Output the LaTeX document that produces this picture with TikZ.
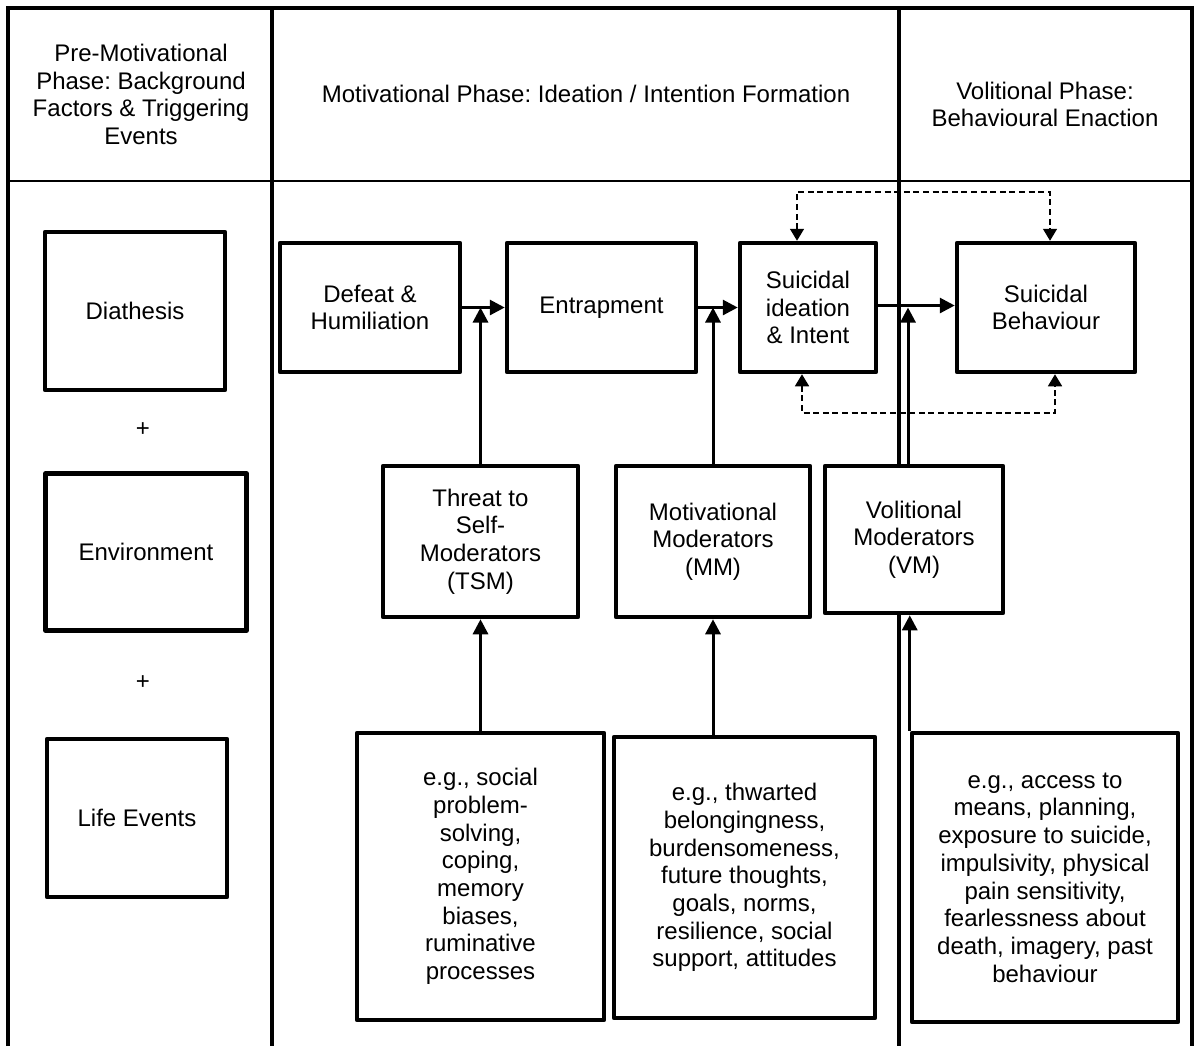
\documentclass[tikz,border=0pt]{standalone}
\usepackage{fontspec}
\setmainfont{Liberation Sans}
\usetikzlibrary{arrows.meta}
\frenchspacing

\begin{document}
\begin{tikzpicture}[x=0.5pt,y=-0.5pt,
  every node/.style={font=\fontsize{12}{13.85}\selectfont,align=center},
  box/.style={draw,fill=white,line width=2.25pt,line join=round,inner sep=2pt},
  frame/.style={line width=2pt},
  arr/.style={line width=1.5pt,-{Triangle[length=7.5pt,width=7.5pt]}},
  dasharr/.style={line width=0.8pt,dash pattern=on 3pt off 1.8pt,
    {Triangle[length=6pt,width=7pt]}-{Triangle[length=6pt,width=7pt]}}]
  \useasboundingbox (0,0) rectangle (1199,1046);

  % Cadre et colonnes
  \draw[frame] (8,1046) -- (8,8) -- (1192,8) -- (1192,1046);
  \draw[frame] (272,8) -- (272,1046);
  \draw[frame] (899,8) -- (899,1046);
  \draw[line width=1pt] (8,181) -- (1192,181);

  % En-tetes
  \node (prehead) at (141,94.5) {Pre-Motivational\\Phase: Background\\Factors \& Triggering\\Events};
  \node (mothead) at (586,94) {Motivational Phase: Ideation / Intention Formation};
  \node (volhead) at (1045,104.5) {Volitional Phase:\\Behavioural Enaction};

  % Phase pre-motivationnelle
  \node[box,minimum width=90pt,minimum height=79pt] (diath) at (135,311) {Diathesis};
  \node (plusa) at (143,430) {+};
  \node[box,minimum width=100.5pt,minimum height=78.5pt] (envir) at (146,552) {Environment};
  \node (plusb) at (143,683) {+};
  \node[box,minimum width=90pt,minimum height=79pt] (life) at (137,818) {Life Events};

  % Chaine principale
  \node[box,minimum width=90pt,minimum height=64.5pt] (defeat) at (370,307.5) {Defeat \&\\Humiliation};
  \node[box,minimum width=94.5pt,minimum height=64.5pt] (entrap) at (601.5,307.5) {Entrapment};
  \node[box,minimum width=68pt,minimum height=64.5pt] (ideation) at (808,307.5) {Suicidal\\ideation\\\& Intent};
  \node[box,minimum width=89pt,minimum height=64.5pt] (behav) at (1046,307.5) {Suicidal\\Behaviour};

  % Moderateurs
  \node[box,minimum width=97.5pt,minimum height=75.5pt] (tsm) at (480.5,541.5) {Threat to\\Self-\\Moderators\\(TSM)};
  \node[box,minimum width=97pt,minimum height=75.5pt] (mm) at (713,541.5) {Motivational\\Moderators\\(MM)};
  \node[box,minimum width=89pt,minimum height=73.5pt] (vm) at (914,539.5) {Volitional\\Moderators\\(VM)};

  % Exemples
  \node[box,minimum width=123.5pt,minimum height=143.5pt] (tsmeg) at (480.5,876.5)
    {e.g., social\\problem-\\solving,\\coping,\\memory\\biases,\\ruminative\\processes};
  \node[box,minimum width=130.5pt,minimum height=140.5pt] (mmeg) at (744.5,877.5)
    {e.g., thwarted\\belongingness,\\burdensomeness,\\future thoughts,\\goals, norms,\\resilience, social\\support, attitudes};
  \node[box,minimum width=133pt,minimum height=144.5pt] (vmeg) at (1045,877.5)
    {e.g., access to\\means, planning,\\exposure to suicide,\\impulsivity, physical\\pain sensitivity,\\fearlessness about\\death, imagery, past\\behaviour};

  % Fleches principales
  \draw[arr] (defeat) -- (entrap);
  \draw[arr] (entrap) -- (ideation);
  \draw[arr] ([yshift=1pt]ideation.east) -- ([yshift=1pt]behav.west);
  \draw[arr] (tsm.north) -- (tsm.north |- defeat.east);
  \draw[arr] (mm.north) -- (mm.north |- entrap.east);
  \draw[arr] ([xshift=-3pt]vm.north) -- ([xshift=-3pt]vm.north |- ideation.east);
  \draw[arr] (tsmeg.north) -- (tsm.south);
  \draw[arr] (mmeg.north -| mm.south) -- (mm.south);
  \draw[arr] (vmeg.north west) -- (vmeg.north west |- vm.south);

  % Retroactions
  \coordinate (itop) at ([xshift=-5.5pt]ideation.north);
  \coordinate (btop) at ([xshift=2pt]behav.north);
  \coordinate (ibot) at ([xshift=-3pt]ideation.south);
  \coordinate (bbot) at ([xshift=4.5pt]behav.south);
  \draw[dasharr] (itop) -- (itop |- 0,192) -- (btop |- 0,192) -- (btop);
  \draw[dasharr] (ibot) -- (ibot |- 0,413) -- (bbot |- 0,413) -- (bbot);
\end{tikzpicture}
\end{document}
